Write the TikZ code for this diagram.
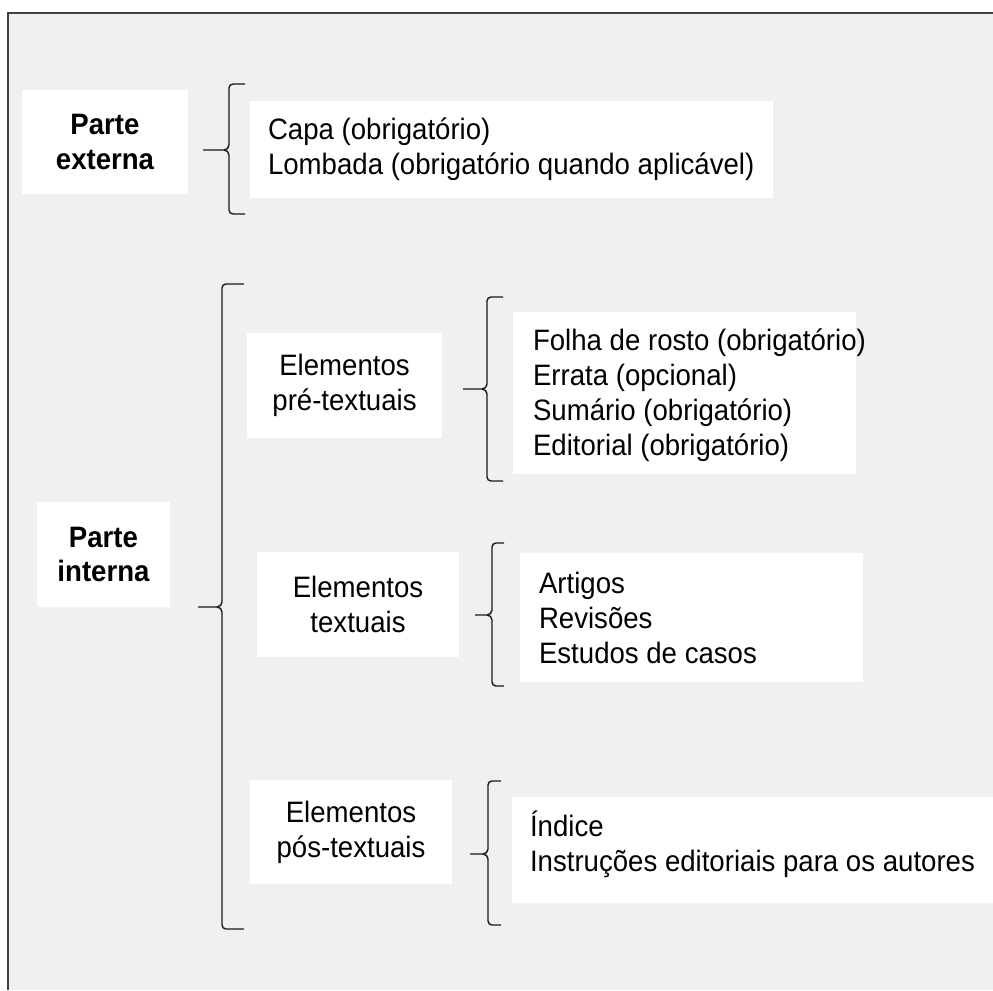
\documentclass[tikz,border=0pt]{standalone}
\usepackage{fontspec}
\setmainfont[FakeStretch=0.935]{Liberation Sans}
\definecolor{panelgray}{HTML}{F0F0F0}
\definecolor{framegray}{HTML}{404040}
\newcommand{\diagfont}{\fontsize{16.8pt}{19.9pt}\selectfont}
% vertical x, top, middle, bottom, tip x, end x
\newcommand{\curly}[6]{%
  \draw[bracket] (#6,#2) -- (#1+4,#2) to[out=180,in=90] (#1,#2+4) -- (#1,#3-5) to[out=-90,in=0] (#1-5,#3) -- (#5,#3);
  \draw[bracket] (#1-5,#3) to[out=0,in=90] (#1,#3+5) -- (#1,#4-4) to[out=-90,in=180] (#1+4,#4) -- (#6,#4);
}
\tikzset{
  whitebox/.style={fill=white, inner sep=0pt},
  headbox/.style={whitebox, align=center, font=\diagfont\bfseries},
  groupbox/.style={whitebox, align=center, font=\diagfont},
  listtext/.style={anchor=west, align=left, inner sep=0pt, font=\diagfont},
  bracket/.style={draw=black!90, line width=0.8pt}
}
\begin{document}
\begin{tikzpicture}[x=0.02cm,y=-0.02cm]
            \useasboundingbox (0,0) rectangle (993,990);
            \fill[panelgray] (8,13) rectangle (993,990);
            \draw[framegray, line width=0.9pt] (8,990) -- (8,13) -- (993,13);
            % parte externa
            \node[headbox, minimum width=3.32cm, minimum height=2.08cm] (ext) at (105,142) {Parte\\externa};
            \node[whitebox, minimum width=10.46cm, minimum height=1.94cm] (capa) at (511.5,149.5) {};
            \node[listtext] (capatxt) at ([xshift=0.36cm]capa.west) {Capa (obrigatório)\\Lombada (obrigatório quando aplicável)};
            \curly{229}{84}{150}{214}{203}{245}
            % parte interna
            \node[headbox, minimum width=2.66cm, minimum height=2.1cm] (int) at (103.5,554.5) {Parte\\interna};
            \curly{222}{284}{607}{929}{198}{244}
            \node[groupbox, minimum width=3.9cm, minimum height=2.1cm] (pre) at (344.5,385.5) {Elementos\\pré-textuais};
            \node[whitebox, minimum width=6.86cm, minimum height=3.24cm] (folha) at (684.5,393) {};
            \node[listtext] (folhatxt) at ([xshift=0.4cm,yshift=-0.04cm]folha.west) {Folha de rosto (obrigatório)\\Errata (opcional)\\Sumário (obrigatório)\\Editorial (obrigatório)};
            \curly{487}{297}{389}{481}{463}{503}
            \node[groupbox, minimum width=4.04cm, minimum height=2.1cm] (txt) at (358,604.5) {Elementos\\textuais};
            \node[whitebox, minimum width=6.86cm, minimum height=2.58cm] (art) at (691.5,617.5) {};
            \node[listtext] (arttxt) at ([xshift=0.38cm]art.west) {Artigos\\Revisões\\Estudos de casos};
            \curly{492}{543}{615}{686}{475}{504}
            \node[groupbox, minimum width=4.04cm, minimum height=2.08cm] (pos) at (351,832) {Elementos\\pós-textuais};
            \node[whitebox, minimum width=9.62cm, minimum height=2.12cm] (ind) at (752.5,850) {};
            \node[listtext] (indtxt) at ([xshift=0.36cm,yshift=0.11cm]ind.west) {Índice\\Instruções editoriais para os autores};
            \curly{488}{781}{854}{925}{470}{501}
\end{tikzpicture}
\end{document}
